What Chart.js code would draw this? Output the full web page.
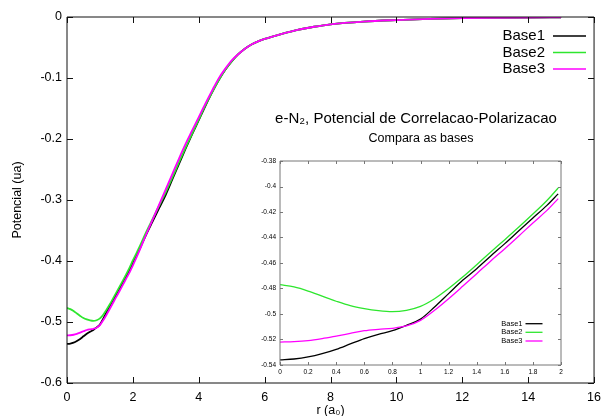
<!DOCTYPE html>
<html>
<head>
<meta charset="utf-8">
<script src="https://cdn.jsdelivr.net/npm/chart.js@4.4.1/dist/chart.umd.min.js"></script>
<style>
  body { margin: 0; background: #fff; }
  #wrap { position: relative; width: 608px; height: 416px; }
  #mainChart { position: absolute; left: 0; top: 0; }
  #insetChart { position: absolute; left: 240px; top: 150px; }
</style>
</head>
<body>
<div id="wrap">
  <canvas id="mainChart" width="608" height="416"></canvas>
  <canvas id="insetChart" width="330" height="230"></canvas>
</div>
<script>
// Series names and colours
const seriesNames = ['Base1', 'Base2', 'Base3'];
const seriesColors = ['#000000', '#2ee62e', '#ff00ff'];

// Close range, r from 0 to ~2
const rInset = [0, 0.1, 0.2, 0.3, 0.4, 0.5, 0.6, 0.7, 0.8, 0.9, 1.0,
                1.1, 1.2, 1.3, 1.4, 1.5, 1.6, 1.7, 1.8, 1.9, 1.98];
const base1Inset = [-0.536, -0.5353, -0.5337, -0.5311, -0.5277, -0.5235, -0.5193, -0.5159, -0.5131, -0.5089, -0.504,
                    -0.4945, -0.484, -0.4736, -0.4645, -0.4545, -0.4448, -0.4347, -0.4247, -0.4148, -0.4058];
const base2Inset = [-0.477, -0.4788, -0.482, -0.486, -0.490, -0.4935, -0.4958, -0.4974, -0.4982, -0.4971, -0.494,
                    -0.488, -0.480, -0.471, -0.4613, -0.4514, -0.4417, -0.4318, -0.4216, -0.4110, -0.4012];
const base3Inset = [-0.522, -0.5217, -0.5209, -0.5193, -0.5173, -0.5152, -0.5131, -0.512, -0.5112, -0.5094, -0.505,
                    -0.4971, -0.488, -0.4783, -0.4684, -0.4584, -0.4488, -0.4388, -0.4286, -0.4187, -0.4095];

// Rest of the curve, r from 2.2 to 15
const rTail = [2.2, 2.4, 2.6, 2.8, 3.0, 3.2, 3.4, 3.6, 3.8, 4.0, 4.2, 4.4, 4.6, 4.8, 5.0,
               5.2, 5.4, 5.6, 5.8, 6.0, 6.5, 7, 7.5, 8, 9, 10, 11, 12, 13, 14, 15];
const base1Tail = [-0.381, -0.357, -0.335, -0.313, -0.291, -0.266, -0.241, -0.216, -0.192, -0.169, -0.146, -0.124, -0.104, -0.087, -0.073,
                   -0.061, -0.052, -0.045, -0.040, -0.036, -0.028, -0.021, -0.016, -0.012, -0.0075, -0.005, -0.0032, -0.002, -0.0013, -0.0008, -0.0005];
const base2Tail = [-0.377, -0.353, -0.331, -0.309, -0.287, -0.263, -0.238, -0.214, -0.191, -0.168, -0.145, -0.124, -0.104, -0.087, -0.073,
                   -0.061, -0.052, -0.045, -0.040, -0.036, -0.028, -0.021, -0.016, -0.012, -0.0075, -0.005, -0.0032, -0.002, -0.0013, -0.0008, -0.0005];
const base3Tail = [-0.383, -0.357, -0.332, -0.307, -0.282, -0.257, -0.232, -0.208, -0.186, -0.164, -0.142, -0.121, -0.101, -0.085, -0.071,
                   -0.061, -0.052, -0.045, -0.040, -0.036, -0.028, -0.021, -0.016, -0.012, -0.0075, -0.005, -0.0032, -0.002, -0.0013, -0.0008, -0.0005];

// Ticks
const mainXTicks = [0, 2, 4, 6, 8, 10, 12, 14, 16];
const mainYTicks = [0, -0.1, -0.2, -0.3, -0.4, -0.5, -0.6];
const insetXTicks = [0, 0.2, 0.4, 0.6, 0.8, 1, 1.2, 1.4, 1.6, 1.8, 2];
const insetYTicks = [-0.38, -0.4, -0.42, -0.44, -0.46, -0.48, -0.5, -0.52, -0.54];

const titleText = 'e-N\u2082, Potencial de Correlacao-Polarizacao';
const subtitleText = 'Compara as bases';

Chart.defaults.font.family = "'Liberation Sans', Arial, sans-serif";
Chart.defaults.color = '#000';

function toPoints(xs, ys) {
    return xs.map((x, i) => ({ x: x, y: ys[i] }));
}
function fmt(v) {
    return String(+v.toFixed(2));
}

// gnuplot-like frame with inward ticks on all four sides
const frameTicks = {
    id: 'frameTicks',
    afterDraw(chart, args, opts) {
        const { ctx, chartArea: a, scales: { x, y } } = chart;
        ctx.save();
        ctx.strokeStyle = opts.color;
        ctx.lineWidth = opts.width;
        ctx.beginPath();
        x.ticks.forEach(t => {
            const px = Math.round(x.getPixelForValue(t.value)) + 0.5;
            ctx.moveTo(px, a.bottom); ctx.lineTo(px, a.bottom - opts.len);
            ctx.moveTo(px, a.top); ctx.lineTo(px, a.top + opts.len);
        });
        y.ticks.forEach(t => {
            const py = Math.round(y.getPixelForValue(t.value)) + 0.5;
            ctx.moveTo(a.left, py); ctx.lineTo(a.left + opts.len, py);
            ctx.moveTo(a.right, py); ctx.lineTo(a.right - opts.len, py);
        });
        ctx.rect(a.left, a.top, a.right - a.left, a.bottom - a.top);
        ctx.stroke();
        ctx.restore();
    }
};

// legend with the label first and a line sample after it
const keyLines = {
    id: 'keyLines',
    afterDraw(chart, args, opts) {
        const ctx = chart.ctx;
        ctx.save();
        ctx.font = opts.font + " 'Liberation Sans', Arial, sans-serif";
        ctx.textAlign = 'right';
        ctx.textBaseline = 'middle';
        chart.data.datasets.forEach((ds, i) => {
            const yy = opts.ys[i];
            ctx.fillStyle = '#000';
            ctx.fillText(ds.label, opts.textRight, yy);
            ctx.strokeStyle = ds.borderColor;
            ctx.lineWidth = opts.lineWidth;
            ctx.beginPath();
            ctx.moveTo(opts.x1, yy);
            ctx.lineTo(opts.x2, yy);
            ctx.stroke();
        });
        ctx.restore();
    }
};

// title lines above the inset
const plotTitles = {
    id: 'plotTitles',
    afterDraw(chart) {
        const ctx = chart.ctx;
        ctx.save();
        ctx.fillStyle = '#000';
        ctx.textAlign = 'center';
        ctx.textBaseline = 'middle';
        ctx.font = "15px 'Liberation Sans', Arial, sans-serif";
        ctx.fillText(titleText, 416, 119);
        ctx.font = "12.5px 'Liberation Sans', Arial, sans-serif";
        ctx.fillText(subtitleText, 421, 139);
        ctx.restore();
    }
};

function makeDatasets(xs, ys, width) {
    return seriesNames.map((name, i) => ({
        label: name,
        data: toPoints(xs, ys[i]),
        borderColor: seriesColors[i],
        borderWidth: width,
        pointRadius: 0,
        fill: false,
        cubicInterpolationMode: 'monotone',
        order: seriesNames.length - i
    }));
}

// Main chart
const rAll = rInset.concat(rTail);
const mainSeries = [
    base1Inset.concat(base1Tail),
    base2Inset.concat(base2Tail),
    base3Inset.concat(base3Tail)
];

new Chart(document.getElementById('mainChart'), {
    type: 'line',
    data: { datasets: makeDatasets(rAll, mainSeries, 1.8) },
    options: {
        responsive: false,
        animation: false,
        devicePixelRatio: 1,
        layout: { padding: { top: 17, right: 7, left: 0, bottom: 0 } },
        scales: {
            x: {
                type: 'linear', min: 0, max: 16,
                afterBuildTicks: s => { s.ticks = mainXTicks.map(v => ({ value: v })); },
                afterFit: s => { s.height = 33; },
                grid: { display: false, drawTicks: false },
                border: { display: false },
                ticks: { font: { size: 12.5 }, padding: 7, autoSkip: false, maxRotation: 0, callback: fmt },
                title: { display: true, text: 'r (a\u2080)', font: { size: 12.5 }, padding: { top: 0, bottom: -2 } }
            },
            y: {
                type: 'linear', min: -0.6, max: 0,
                afterBuildTicks: s => { s.ticks = mainYTicks.map(v => ({ value: v })); },
                afterFit: s => { s.width = 67; },
                grid: { display: false, drawTicks: false },
                border: { display: false },
                ticks: { font: { size: 12.5 }, padding: 5, autoSkip: false, callback: fmt },
                title: { display: true, text: 'Potencial (ua)', font: { size: 12.5 }, padding: { top: 10, bottom: 0 } }
            }
        },
        plugins: {
            legend: { display: false },
            tooltip: { enabled: false },
            frameTicks: { color: '#111', width: 1, len: 6 },
            keyLines: { font: '15px', textRight: 545, x1: 553, x2: 586, ys: [36, 52.5, 69], lineWidth: 1.6 }
        }
    },
    plugins: [frameTicks, keyLines, plotTitles]
});

// Inset chart (zoom of 0 <= r <= 2)
const insetSeries = [base1Inset, base2Inset, base3Inset];

new Chart(document.getElementById('insetChart'), {
    type: 'line',
    data: { datasets: makeDatasets(rInset, insetSeries, 1.3) },
    options: {
        responsive: false,
        animation: false,
        devicePixelRatio: 1,
        layout: { padding: { top: 11, right: 9, left: 0, bottom: 0 } },
        scales: {
            x: {
                type: 'linear', min: 0, max: 2,
                afterBuildTicks: s => { s.ticks = insetXTicks.map(v => ({ value: v })); },
                afterFit: s => { s.height = 15; },
                grid: { display: false, drawTicks: false },
                border: { display: false },
                ticks: { font: { size: 6.5 }, padding: 3, autoSkip: false, maxRotation: 0, callback: fmt }
            },
            y: {
                type: 'linear', min: -0.54, max: -0.38,
                afterBuildTicks: s => { s.ticks = insetYTicks.map(v => ({ value: v })); },
                afterFit: s => { s.width = 40; },
                grid: { display: false, drawTicks: false },
                border: { display: false },
                ticks: { font: { size: 6.5 }, padding: 4, autoSkip: false, callback: fmt }
            }
        },
        plugins: {
            legend: { display: false },
            tooltip: { enabled: false },
            frameTicks: { color: '#777', width: 1, len: 3 },
            keyLines: { font: '7.5px', textRight: 282.5, x1: 285.5, x2: 302.5, ys: [173.7, 182.3, 191], lineWidth: 1.3 }
        }
    },
    plugins: [frameTicks, keyLines]
});
</script>
</body>
</html>
